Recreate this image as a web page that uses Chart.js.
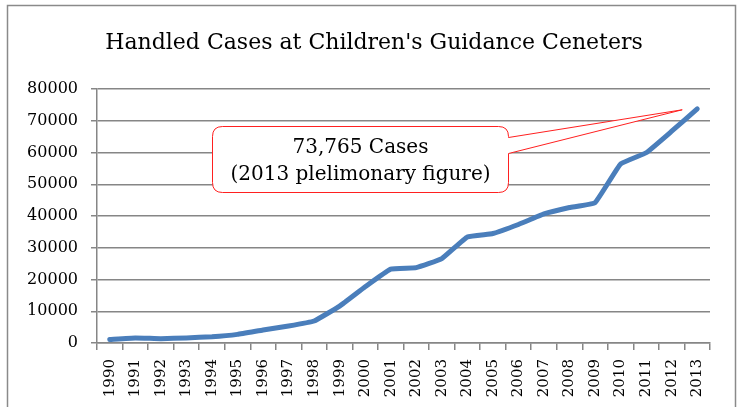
<!DOCTYPE html>
<html><head><meta charset="utf-8">
<script src="https://cdn.jsdelivr.net/npm/chart.js@4"></script>
<style>html,body{margin:0;padding:0;background:#fff;}#wrap{width:738px;height:407px;position:relative;}</style>
</head><body><div id="wrap"><canvas id="c" width="738" height="407"></canvas></div>
<script>
const title = "Handled Cases at Children's Guidance Ceneters";
const years = ["1990","1991","1992","1993","1994","1995","1996","1997","1998","1999","2000","2001","2002","2003","2004","2005","2006","2007","2008","2009","2010","2011","2012","2013"];
const cases = [1101,1600,1372,1611,1961,2722,4102,5352,6932,11631,17725,23274,23738,26569,33408,34472,37323,40639,42664,44211,56384,59919,66701,73765];
const yTicks = [0,10000,20000,30000,40000,50000,60000,70000,80000];
const calloutLines = ["73,765 Cases","(2013 plelimonary figure)"];

const SERIF = '"DejaVu Serif", serif';

const decor = {
  id:'decor',
  beforeDraw(chart){
    const ctx = chart.ctx;
    ctx.save();
    ctx.fillStyle='#fff';ctx.fillRect(0,0,chart.width,chart.height);
    ctx.strokeStyle='#8a8a8a';ctx.lineWidth=1.5;
    ctx.strokeRect(7.5,5.5,728,420);
    ctx.fillStyle='#000';ctx.font='22px '+SERIF;ctx.textAlign='center';ctx.textBaseline='middle';
    ctx.fillText(title,374,43);
    ctx.restore();
  },
  afterDatasetsDraw(chart){
    const ctx=chart.ctx, xs=chart.scales.x, ys=chart.scales.y;
    const tx = xs.getPixelForValue(cases.length-1) - 15;
    const ty = ys.getPixelForValue(cases[cases.length-1]) + 1;
    const bx=212.5, by=126.5, bw=296, bh=66, r=10;
    ctx.save();
    ctx.beginPath();
    ctx.moveTo(bx+r,by);ctx.lineTo(bx+bw-r,by);ctx.quadraticCurveTo(bx+bw,by,bx+bw,by+r);
    ctx.lineTo(bx+bw,by+11);ctx.lineTo(tx,ty);ctx.lineTo(bx+bw,by+27);
    ctx.lineTo(bx+bw,by+bh-r);ctx.quadraticCurveTo(bx+bw,by+bh,bx+bw-r,by+bh);
    ctx.lineTo(bx+r,by+bh);ctx.quadraticCurveTo(bx,by+bh,bx,by+bh-r);
    ctx.lineTo(bx,by+r);ctx.quadraticCurveTo(bx,by,bx+r,by);ctx.closePath();
    ctx.fillStyle='#fff';ctx.fill();
    ctx.strokeStyle='#ff2020';ctx.lineWidth=1;ctx.stroke();
    ctx.fillStyle='#000';ctx.font='20px '+SERIF;ctx.textAlign='center';ctx.textBaseline='middle';
    ctx.fillText(calloutLines[0],bx+bw/2,by+21);
    ctx.fillText(calloutLines[1],bx+bw/2,by+48);
    ctx.restore();
  }
};

new Chart(document.getElementById('c'),{
  type:'line',
  data:{labels:years,datasets:[{data:cases,borderColor:'#4a7ebb',borderWidth:5,pointRadius:0,tension:0.1,fill:false,borderJoinStyle:'round',borderCapStyle:'round'}]},
  plugins:[decor],
  options:{
    responsive:false,animation:false,
    layout:{padding:{left:0,top:89,right:28,bottom:0}},
    plugins:{legend:{display:false},tooltip:{enabled:false},title:{display:false}},
    scales:{
      x:{offset:true,
        grid:{offset:true,drawOnChartArea:false,drawTicks:true,tickLength:7,color:'#868686',lineWidth:1.5},
        border:{color:'#868686',width:1.5},
        ticks:{minRotation:90,maxRotation:90,autoSkip:false,color:'#000',padding:9,font:{family:SERIF,size:15}},
        afterFit(s){s.height=407-343;}
      },
      y:{min:0,max:80000,
        afterBuildTicks(s){s.ticks=yTicks.map(v=>({value:v}));},
        grid:{color:'#868686',lineWidth:1.5,tickLength:6},
        border:{color:'#868686',width:1.5},
        ticks:{color:'#000',padding:13,font:{family:SERIF,size:16},callback:(v)=>String(v)},
        afterFit(s){s.width=97;}
      }
    }
  }
});
</script></body></html>
